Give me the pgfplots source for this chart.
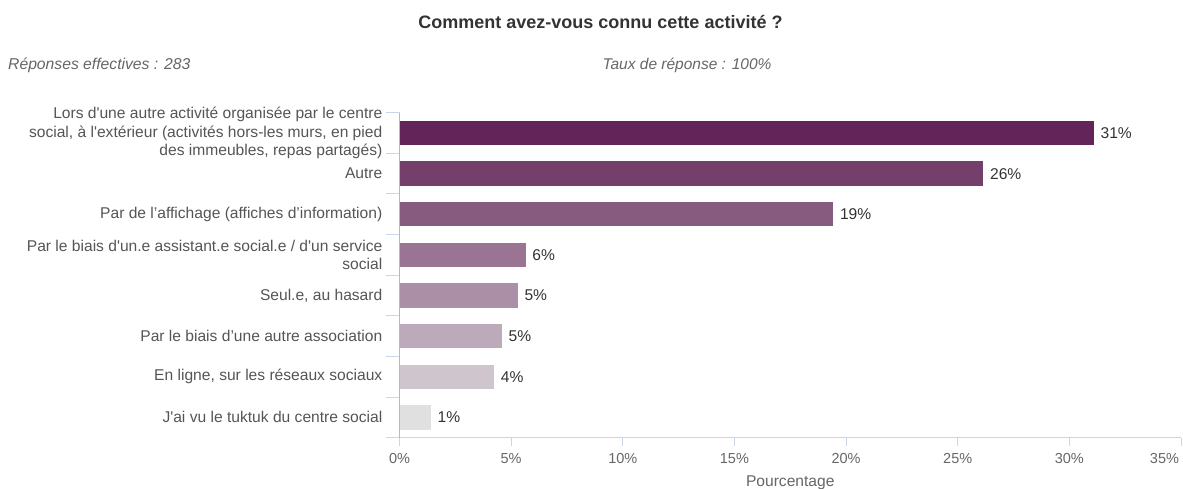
\documentclass[border=0pt]{standalone}
\usepackage{pgfplots}
\pgfplotsset{compat=1.18}
\usepackage{fontspec}
\setmainfont{Liberation Sans}
\definecolor{b1}{HTML}{632459}
\definecolor{b2}{HTML}{753F6C}
\definecolor{b3}{HTML}{875A80}
\definecolor{b4}{HTML}{997593}
\definecolor{b5}{HTML}{AA8FA6}
\definecolor{b6}{HTML}{BCAABA}
\definecolor{b7}{HTML}{CEC5CD}
\definecolor{b8}{HTML}{E0E0E0}
\definecolor{axc}{HTML}{CCD6EB}
\definecolor{yaxc}{HTML}{B4B9C8}
\definecolor{lab}{HTML}{555555}
\definecolor{tlab}{HTML}{666666}
\definecolor{ttl}{HTML}{333333}
\newcommand{\sq}{\textquotesingle}
\begin{document}
\begin{tikzpicture}[x=1pt,y=1pt]
\useasboundingbox (0,0) rectangle (1183,488);
\node[anchor=base, font=\fontsize{18}{21}\selectfont\bfseries, text=ttl, inner sep=0pt] at (600.5,459.7) {Comment avez-vous connu cette activité ?};
\node[anchor=base west, font=\fontsize{15.7}{18}\selectfont\itshape, text=tlab, inner sep=0pt] at (8,418) {Réponses effectives : 283};
\node[anchor=base, font=\fontsize{15.5}{18}\selectfont\itshape, text=tlab, inner sep=0pt] at (687,418) {Taux de réponse : 100\%};
\begin{axis}[
  at={(399.5pt,50.3pt)}, anchor=south west,
  scale only axis, width=781.5pt, height=325pt,
  xmin=0, xmax=35, ymin=-0.5, ymax=7.5, y dir=reverse,
  axis x line*=bottom, axis y line*=left,
  x axis line style={draw=axc, line width=1pt, -},
  y axis line style={draw=yaxc, line width=1pt, -},
  xbar, bar width=24.3pt, bar shift=0pt, clip=false,
  xtick={0,5,...,35},
  xticklabels={0\%,5\%,10\%,15\%,20\%,25\%,30\%,{\llap{35\%\kern2pt}}},
  tick align=outside, major tick length=8pt, minor tick length=13pt,
  major x tick style={draw=axc, line width=1pt},
  xticklabel style={font=\fontsize{14.5}{17}\selectfont, text=tlab, anchor=base, inner sep=0pt, yshift=-17.6pt},
  ytick={0,...,7},
  minor ytick={-0.5,0.5,...,7.5},
  yticklabels={
    {Lors d\sq une autre activité organisée par le centre\\social, à l\sq extérieur (activités hors-les murs, en pied\\des immeubles, repas partagés)},
    {Autre},
    {Par de l’affichage (affiches d’information)},
    {Par le biais d\sq un.e assistant.e social.e / d\sq un service\\social},
    {Seul.e, au hasard},
    {Par le biais d’une autre association},
    {En ligne, sur les réseaux sociaux},
    {J\sq ai vu le tuktuk du centre social}},
  major y tick style={draw=none},
  minor y tick style={draw=axc, line width=1pt},
  yticklabel style={font=\fontsize{15.6}{18.3}\selectfont, text=lab, align=right, anchor=east, inner sep=0pt, xshift=-9pt},
  xlabel={Pourcentage},
  x label style={at={(axis description cs:0.5,0)}, anchor=base, yshift=-48.5pt, font=\fontsize{15.6}{18}\selectfont, text=tlab, inner sep=0pt},
  point meta=x,
  nodes near coords={\pgfmathprintnumber[fixed,precision=0,assume math mode=true]{\pgfplotspointmeta}\%},
  nodes near coords style={anchor=west, inner sep=0pt, xshift=6.5pt, font=\fontsize{15.6}{18}\selectfont, text=ttl},
]
\addplot[fill=b1, draw=none] coordinates {(31.10,0)};
\addplot[fill=b2, draw=none] coordinates {(26.15,1)};
\addplot[fill=b3, draw=none] coordinates {(19.43,2)};
\addplot[fill=b4, draw=none] coordinates {(5.65,3)};
\addplot[fill=b5, draw=none] coordinates {(5.30,4)};
\addplot[fill=b6, draw=none] coordinates {(4.59,5)};
\addplot[fill=b7, draw=none] coordinates {(4.24,6)};
\addplot[fill=b8, draw=none] coordinates {(1.41,7)};
\end{axis}
\end{tikzpicture}
\end{document}
